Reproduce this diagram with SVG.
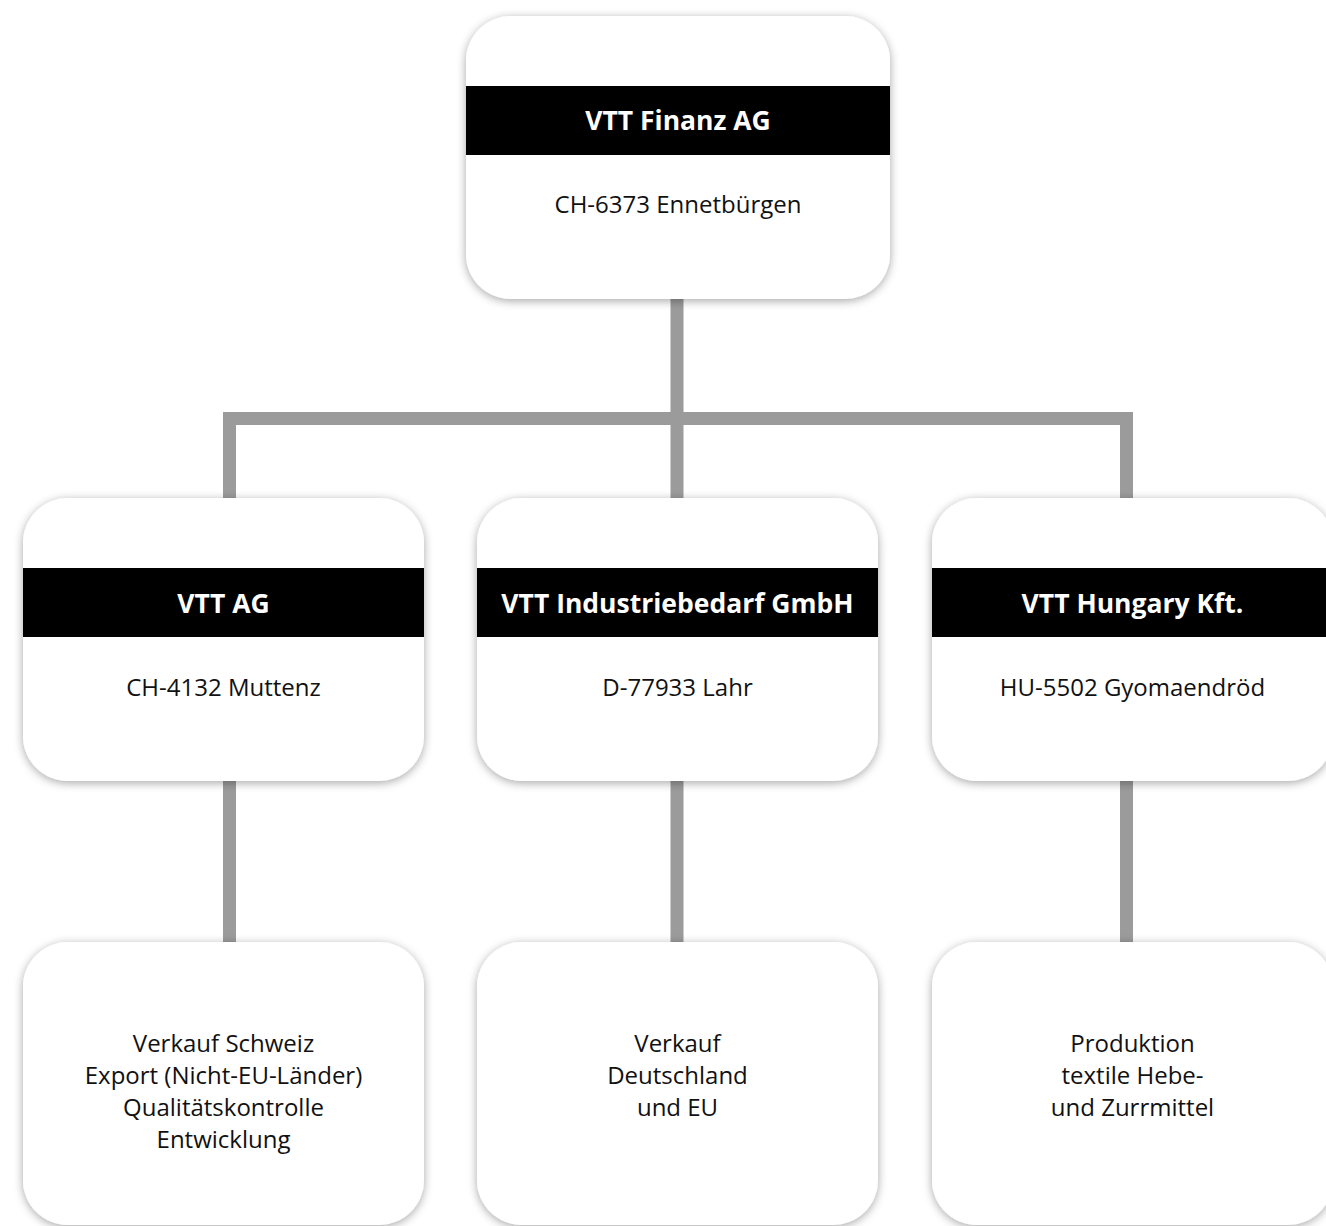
<svg xmlns="http://www.w3.org/2000/svg" width="1326" height="1226" viewBox="0 0 1326 1226">
<defs>
<filter id="sh" x="-10%" y="-10%" width="120%" height="120%">
<feDropShadow dx="0" dy="2" stdDeviation="5" flood-color="#000" flood-opacity="0.35"/>
</filter>
<style>
.box{fill:#fff;filter:url(#sh)}
.bar{fill:#000}
.t{font-family:"Open Sans","Liberation Sans",sans-serif;font-weight:bold;font-size:26.5px;fill:#fff;text-anchor:middle}
.s{font-family:"Open Sans","Liberation Sans",sans-serif;font-size:24px;fill:#111;text-anchor:middle}
.c{stroke:#9b9b9b;stroke-width:13;fill:none}
</style>
</defs>
<rect width="1326" height="1226" fill="#fff"/>
<g id="connectors">
<path class="c" d="M677 299 V418.5 M229.5 418.5 H1126.5 M229.5 412 V498 M677 418.5 V498 M1126.5 412 V498"/>
<path class="c" d="M229.5 781 V942 M677 781 V942 M1126.5 781 V942"/>
</g>
<g id="n-finanz">
<rect class="box" x="466" y="16" width="424" height="283" rx="45"/>
<rect class="bar" x="466" y="86" width="424" height="69"/>
<text class="t" x="678" y="130">VTT Finanz AG</text>
<text class="s" x="678" y="213">CH-6373 Ennetbürgen</text>
</g>
<g id="n-vttag">
<rect class="box" x="23" y="498" width="401" height="283" rx="45"/>
<rect class="bar" x="23" y="568" width="401" height="69"/>
<text class="t" x="223.5" y="613">VTT AG</text>
<text class="s" x="223.5" y="696">CH-4132 Muttenz</text>
</g>
<g id="n-gmbh">
<rect class="box" x="477" y="498" width="401" height="283" rx="45"/>
<rect class="bar" x="477" y="568" width="401" height="69"/>
<text class="t" x="677.5" y="613">VTT Industriebedarf GmbH</text>
<text class="s" x="677.5" y="696">D-77933 Lahr</text>
</g>
<g id="n-hungary">
<rect class="box" x="932" y="498" width="401" height="283" rx="45"/>
<rect class="bar" x="932" y="568" width="401" height="69"/>
<text class="t" x="1132.5" y="613">VTT Hungary Kft.</text>
<text class="s" x="1132.5" y="696">HU-5502 Gyomaendröd</text>
</g>
<g id="n-ch">
<rect class="box" x="23" y="942" width="401" height="283" rx="45"/>
<text class="s" x="223.5" y="1052">Verkauf Schweiz</text>
<text class="s" x="223.5" y="1084">Export (Nicht-EU-Länder)</text>
<text class="s" x="223.5" y="1116">Qualitätskontrolle</text>
<text class="s" x="223.5" y="1148">Entwicklung</text>
</g>
<g id="n-de">
<rect class="box" x="477" y="942" width="401" height="283" rx="45"/>
<text class="s" x="677.5" y="1052">Verkauf</text>
<text class="s" x="677.5" y="1084">Deutschland</text>
<text class="s" x="677.5" y="1116">und EU</text>
</g>
<g id="n-hu">
<rect class="box" x="932" y="942" width="401" height="283" rx="45"/>
<text class="s" x="1132.5" y="1052">Produktion</text>
<text class="s" x="1132.5" y="1084">textile Hebe-</text>
<text class="s" x="1132.5" y="1116">und Zurrmittel</text>
</g>
</svg>
